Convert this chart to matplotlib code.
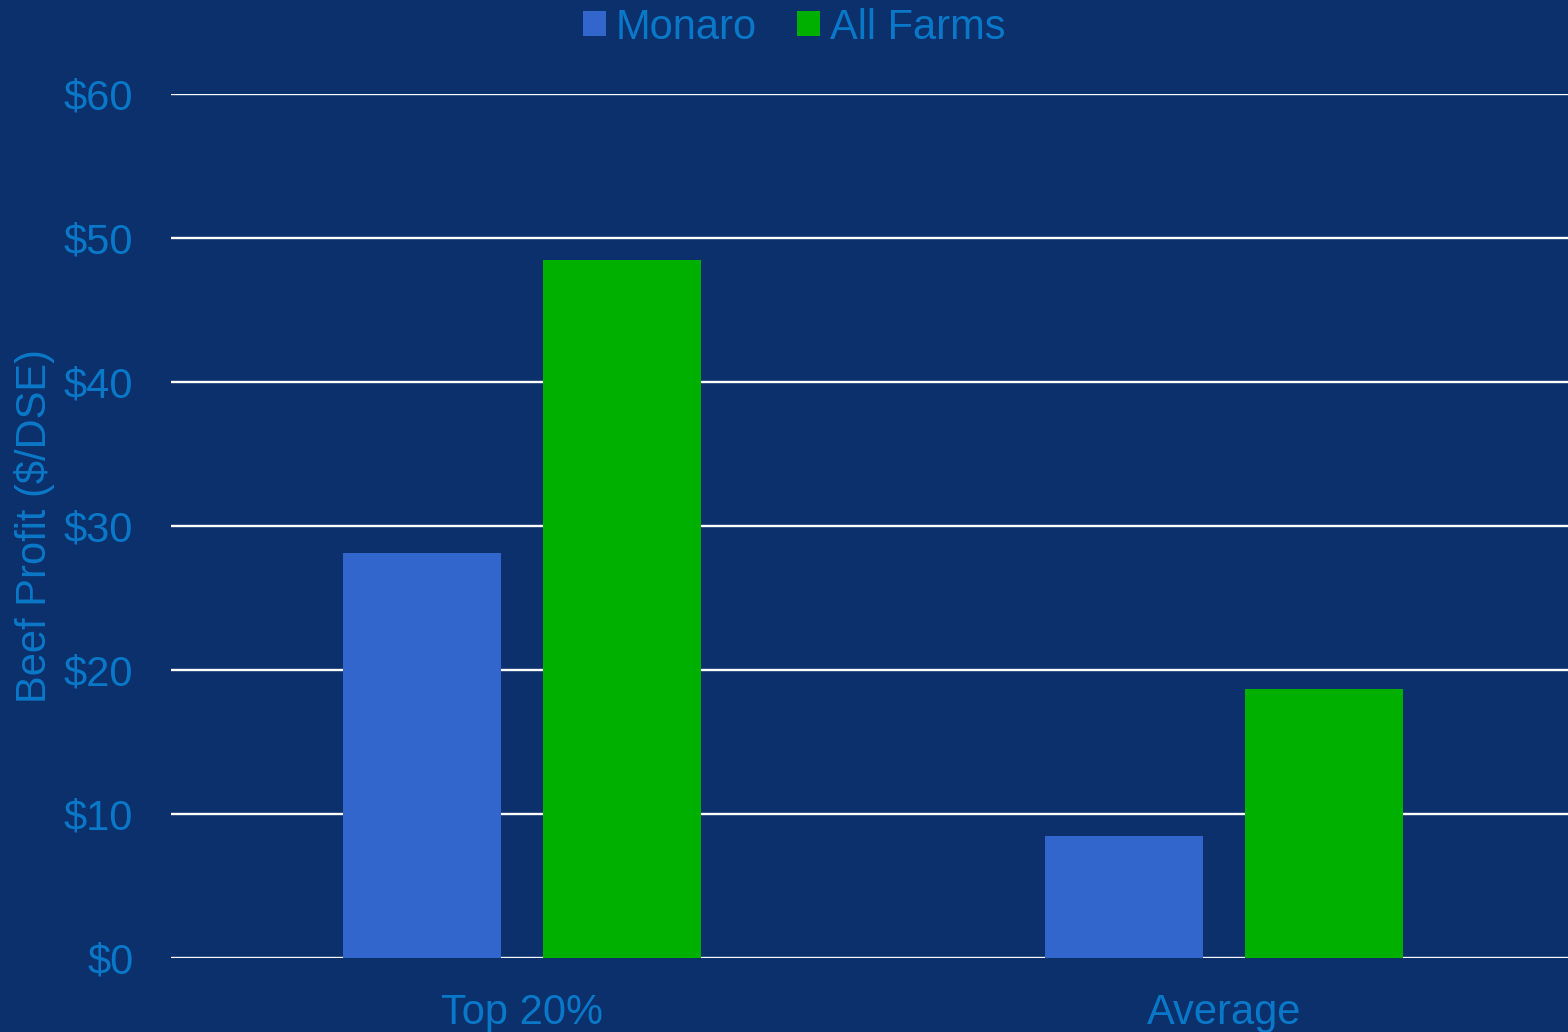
import matplotlib.pyplot as plt
import numpy as np

plt.rcParams['font.family'] = ['Liberation Sans', 'DejaVu Sans']

groups = ['Top 20%', 'Average']
monaro = [28.1, 8.5]
all_farms = [48.5, 18.7]
yticks = [0, 10, 20, 30, 40, 50, 60]
ytick_labels = ['$0', '$10', '$20', '$30', '$40', '$50', '$60']

bg = '#0b306b'
txt = '#0a78c8'

fig = plt.figure(figsize=(15.68, 10.32), dpi=100, facecolor=bg)
ax = fig.add_axes([0.109, 0.0717, 0.891, 0.8372], facecolor=bg)

x = np.arange(len(groups))
width = 0.224
ax.bar(x - 0.1425, monaro, width=width, color='#3366cc', label='Monaro', zorder=3)
ax.bar(x + 0.1425, all_farms, width=width, color='#00b000', label='All Farms', zorder=3)

ax.set_xlim(-0.5, 1.49)
ax.set_ylim(0, 60)
ax.set_yticks(yticks)
ax.set_yticklabels(ytick_labels)
ax.set_xticks(x)
ax.set_xticklabels(groups)
ax.tick_params(axis='y', length=0, pad=27, labelsize=30, labelcolor=txt)
ax.tick_params(axis='x', length=0, pad=25, labelsize=30, labelcolor=txt)
for v in yticks:
    ax.axhline(v, color='white', linewidth=1.7, zorder=2)
for s in ax.spines.values():
    s.set_visible(False)

ax.set_ylabel('Beef Profit ($/DSE)', fontsize=30, color=txt)
ax.yaxis.set_label_coords(-0.083, 0.5)

fig.legend(loc='upper center', bbox_to_anchor=(0.5065, 1.029), ncol=2, frameon=False,
           fontsize=30, handlelength=0.55, handleheight=0.55, handletextpad=0.25,
           columnspacing=0.95, labelcolor=txt)

fig.savefig('out.png', dpi=100, facecolor=bg)
